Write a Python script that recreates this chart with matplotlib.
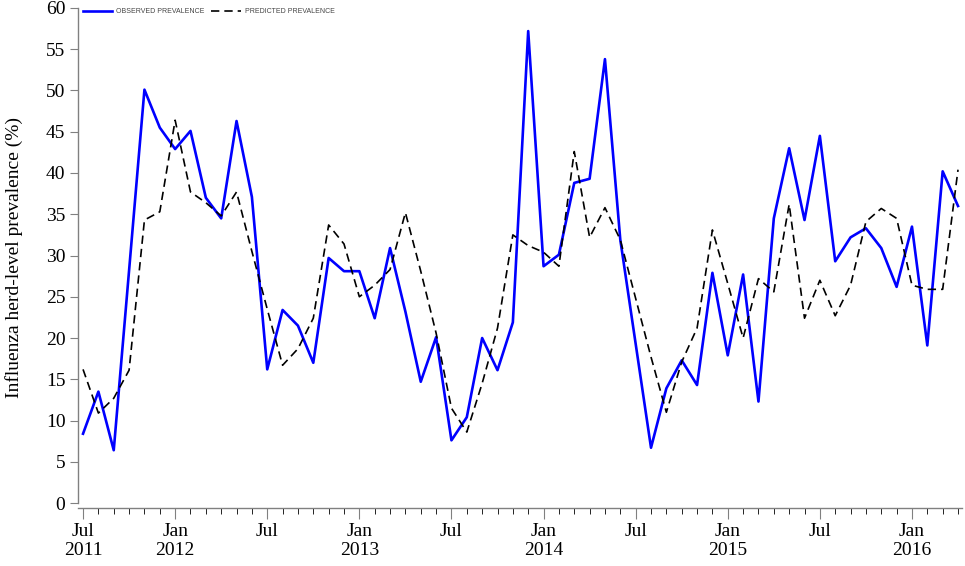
import numpy as np
import matplotlib
matplotlib.use("Agg")
import matplotlib.pyplot as plt
from matplotlib.ticker import MultipleLocator

# monthly series, Jul 2011 .. Apr 2016
observed = [8.4, 13.5, 6.4, 28.2, 50.1, 45.5,
            42.9, 45.1, 37.0, 34.5, 46.3, 37.1, 16.2, 23.4, 21.5, 17.0, 29.7, 28.1,
            28.1, 22.4, 30.9, 23.2, 14.7, 20.1, 7.6, 10.4, 20.0, 16.1, 21.9, 57.2,
            28.7, 30.1, 38.8, 39.3, 53.8, 31.9, 19.3, 6.7, 13.9, 17.3, 14.3, 27.9,
            17.9, 27.7, 12.3, 34.5, 43.0, 34.3, 44.5, 29.3, 32.2, 33.3, 30.9, 26.2,
            33.5, 19.1, 40.2, 36.0]
predicted = [16.2, 10.9, 12.7, 16.1, 34.3, 35.3,
             46.4, 37.7, 36.4, 34.8, 37.7, 30.5, 23.5, 16.7, 18.7, 22.4, 33.7, 31.4,
             25.0, 26.4, 28.3, 35.2, 28.1, 20.6, 11.5, 8.6, 14.5, 21.2, 32.5, 31.2,
             30.4, 28.7, 42.6, 32.2, 35.8, 31.9, 24.8, 17.7, 11.0, 17.1, 21.2, 33.1,
             26.6, 20.0, 27.2, 25.6, 36.2, 22.4, 27.0, 22.7, 26.4, 34.1, 35.7, 34.5,
             26.4, 25.9, 25.9, 40.4]
tick_labels = ["Jul\n2011", "Jan\n2012", "Jul", "Jan\n2013", "Jul",
               "Jan\n2014", "Jul", "Jan\n2015", "Jul", "Jan\n2016"]

months = np.arange(len(observed))

fig = plt.figure(figsize=(9.65, 5.66), dpi=100)
ax = fig.add_axes([0.0808, 0.1025, 0.9161, 0.8834])

ax.plot(months, observed, color="#0000ff", lw=1.9, label="OBSERVED PREVALENCE")
ax.plot(months, predicted, color="black", lw=1.2, ls=(0, (5, 3)),
        label="PREDICTED PREVALENCE")

ax.set_xlim(-0.33, 57.26)
ax.set_ylim(-0.6, 60)

for s in ["top", "right"]:
    ax.spines[s].set_visible(False)
for s in ["left", "bottom"]:
    ax.spines[s].set_color("#808080")
    ax.spines[s].set_linewidth(1.0)
ax.spines["left"].set_bounds(0, 60)

ax.set_yticks(np.arange(0, 61, 5))
ax.set_xticks(np.arange(0, len(observed), 6))
ax.set_xticklabels(tick_labels)
ax.xaxis.set_minor_locator(MultipleLocator(1))
ax.tick_params(axis="both", colors="#808080", labelcolor="black",
               labelsize=14, direction="out")
ax.tick_params(axis="x", which="major", length=8, pad=3)
ax.tick_params(axis="x", which="minor", length=4)
ax.tick_params(axis="y", length=6, pad=3)
for lab in ax.get_xticklabels() + ax.get_yticklabels():
    lab.set_family("Liberation Serif")
    lab.set_linespacing(1.1)

ax.set_ylabel("Influenza herd-level prevalence (%)", family="Liberation Serif",
              fontsize=14)
ax.yaxis.set_label_coords(-0.062, 0.5)

leg = ax.legend(loc="upper left", ncol=2, frameon=False,
                prop={"family": "Liberation Sans", "size": 5},
                handlelength=4.3, columnspacing=1.0, handletextpad=0.5,
                borderaxespad=0.0, bbox_to_anchor=(0.002, 1.005))
for t in leg.get_texts():
    t.set_color("#444444")

fig.savefig("out.png", dpi=100)
